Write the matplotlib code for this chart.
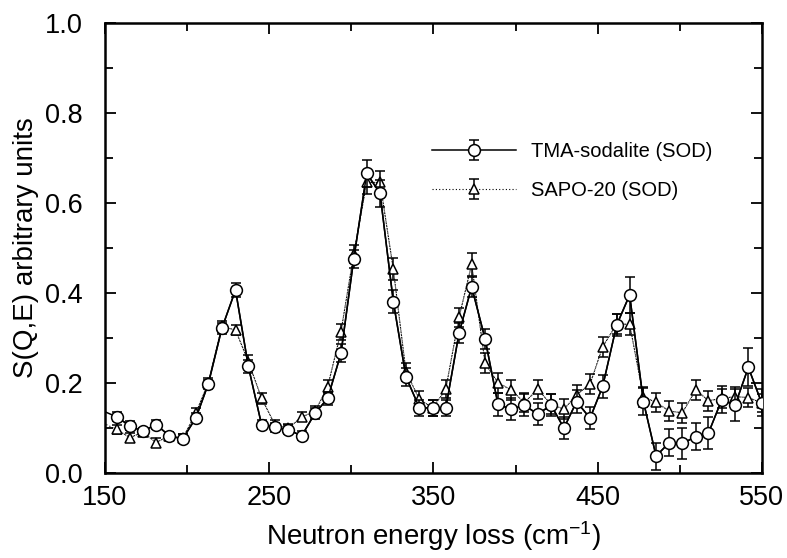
import numpy as np
import matplotlib
matplotlib.use("Agg")
import matplotlib.pyplot as plt

plt.rcParams['font.family'] = ['Liberation Sans', 'DejaVu Sans']
plt.rcParams['mathtext.fontset'] = 'custom'
plt.rcParams['mathtext.rm'] = 'Liberation Sans'
plt.rcParams['mathtext.it'] = 'Liberation Sans:italic'

# energy transfer (cm-1); first and last entries lie just outside the axis range
energy = [149.0, 157.1, 165.2, 173.0, 181.1, 189.2, 197.3, 205.4, 212.9, 221.2,
          229.5, 237.3, 245.4, 253.6, 261.7, 269.8, 277.9, 285.6, 293.7, 301.5,
          309.4, 317.5, 325.6, 333.3, 341.5, 349.6, 357.5, 365.6, 373.3, 381.5,
          389.3, 397.3, 405.4, 413.5, 421.7, 429.5, 437.2, 445.4, 453.1, 461.6,
          469.5, 477.9, 485.6, 493.7, 501.6, 509.8, 517.5, 525.6, 533.7, 541.8,
          549.9]

tma = [0.137, 0.124, 0.104, 0.092, 0.107, 0.082, 0.075, 0.122, 0.197, 0.321,
       0.406, 0.236, 0.106, 0.101, 0.095, 0.082, 0.132, 0.165, 0.265, 0.475,
       0.665, 0.621, 0.380, 0.213, 0.144, 0.144, 0.143, 0.310, 0.413, 0.297,
       0.152, 0.141, 0.150, 0.130, 0.150, 0.099, 0.158, 0.121, 0.192, 0.328,
       0.395, 0.158, 0.037, 0.067, 0.065, 0.080, 0.088, 0.162, 0.150, 0.234,
       0.155]
tma_err = [0.010, 0.010, 0.010, 0.008, 0.010, 0.008, 0.010, 0.010, 0.010, 0.012,
           0.016, 0.015, 0.010, 0.010, 0.010, 0.010, 0.012, 0.014, 0.020, 0.020,
           0.030, 0.030, 0.026, 0.020, 0.018, 0.018, 0.018, 0.022, 0.022, 0.022,
           0.025, 0.025, 0.025, 0.025, 0.025, 0.025, 0.025, 0.025, 0.025, 0.025,
           0.040, 0.030, 0.030, 0.030, 0.035, 0.030, 0.035, 0.030, 0.035, 0.042,
           0.030]

sapo = [0.110, 0.096, 0.078, 0.090, 0.067, 0.082, 0.076, 0.133, 0.200, 0.325,
        0.317, 0.247, 0.165, 0.106, 0.099, 0.124, 0.136, 0.191, 0.313, 0.486,
        0.645, 0.645, 0.452, 0.224, 0.163, 0.144, 0.185, 0.345, 0.463, 0.243,
        0.200, 0.184, 0.156, 0.185, 0.152, 0.141, 0.173, 0.197, 0.280, 0.330,
        0.330, 0.169, 0.156, 0.137, 0.133, 0.184, 0.160, 0.165, 0.169, 0.167,
        0.155]
sapo_err = [0.010, 0.010, 0.010, 0.008, 0.010, 0.008, 0.010, 0.010, 0.010, 0.012,
            0.012, 0.014, 0.012, 0.010, 0.010, 0.010, 0.012, 0.014, 0.018, 0.020,
            0.025, 0.025, 0.024, 0.020, 0.018, 0.018, 0.020, 0.022, 0.025, 0.022,
            0.022, 0.022, 0.022, 0.022, 0.022, 0.022, 0.022, 0.022, 0.022, 0.022,
            0.025, 0.022, 0.022, 0.022, 0.022, 0.022, 0.022, 0.022, 0.022, 0.022,
            0.020]

labels = ["TMA-sodalite (SOD)", "SAPO-20 (SOD)"]
x_ticks = [150, 250, 350, 450, 550]
y_ticks = [0.0, 0.2, 0.4, 0.6, 0.8, 1.0]

x = np.array(energy)
inside = (x > 150) & (x < 550)

fig = plt.figure(figsize=(7.87, 5.58), dpi=100)
ax = fig.add_axes([0.1334, 0.1529, 0.968 - 0.1334, 0.9593 - 0.1529])

# connecting lines (include the out-of-range neighbours so the curve reaches the frame)
ax.plot(x, tma, color='black', lw=1.1, zorder=2)
ax.plot(x, sapo, color='black', lw=0.8, ls=(0, (1, 2)), zorder=2)

xi = x[inside]
eb1 = ax.errorbar(xi, np.array(tma)[inside], yerr=np.array(tma_err)[inside],
                  fmt='o', ls='-', lw=1.1, color='black', mfc='white', mec='black',
                  ms=8.5, mew=1.1, ecolor='black', elinewidth=1.1, capsize=3.5,
                  capthick=1.1, zorder=4)
eb2 = ax.errorbar(xi, np.array(sapo)[inside], yerr=np.array(sapo_err)[inside],
                  fmt='^', ls=(0, (1, 2)), lw=0.8, color='black', mfc='white', mec='black',
                  ms=7.5, mew=1.1, ecolor='black', elinewidth=1.1, capsize=3.5,
                  capthick=1.1, zorder=3)

ax.set_xlim(150, 550)
ax.set_ylim(0.0, 1.0)
ax.set_xticks(x_ticks)
ax.set_xticklabels([str(t) for t in x_ticks])
ax.set_xticks([200, 300, 400, 500], minor=True)
ax.set_yticks(y_ticks)
ax.set_yticklabels([f"{t:.1f}" for t in y_ticks])
ax.set_yticks([0.1, 0.3, 0.5, 0.7, 0.9], minor=True)
ax.tick_params(which='both', direction='in', top=True, right=True, width=1.3,
               labelsize=19.5)
ax.tick_params(axis='x', which='both', pad=9)
ax.tick_params(axis='y', which='both', pad=16)
ax.tick_params(which='major', length=8)
ax.tick_params(which='minor', length=6)
for s in ax.spines.values():
    s.set_linewidth(1.8)

ax.set_xlabel("Neutron energy loss (cm$^{-1}$)", fontsize=20, labelpad=6)
ax.set_ylabel("S(Q,E) arbitrary units", fontsize=20, labelpad=4)

leg = ax.legend([eb1, eb2], labels, loc='upper left', bbox_to_anchor=(0.47, 0.775),
                frameon=False, fontsize=14.5, handlelength=4.2, handletextpad=0.7,
                labelspacing=1.0)

fig.savefig("out.png", dpi=100)
